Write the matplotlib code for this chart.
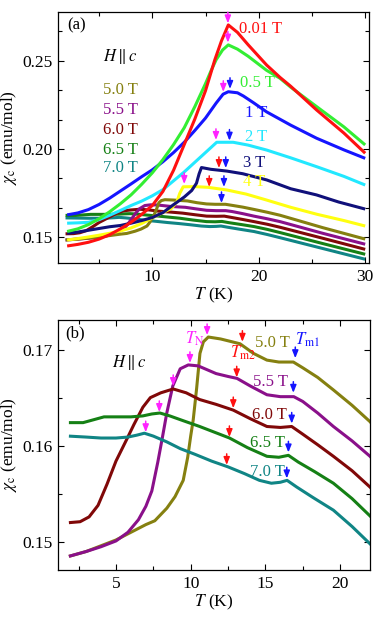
import numpy as np
import matplotlib
matplotlib.use('Agg')
import matplotlib.pyplot as plt
from matplotlib.ticker import MultipleLocator, AutoMinorLocator, FormatStrFormatter

plt.rcParams['font.family'] = ['Liberation Serif', 'DejaVu Serif']
plt.rcParams['mathtext.fontset'] = 'stix'

# ---- data ----
# panel (a), low fields
T_001 = [2, 3, 4, 5, 6, 7, 8, 9, 10, 11, 12, 13, 14, 15, 15.87, 16.5, 17.14, 18, 19, 20.74, 22, 23,
         25.43, 28, 30]
chi_001 = [0.1451, 0.1460, 0.1472, 0.1490, 0.1515, 0.1548, 0.1585, 0.1630, 0.1680, 0.1760, 0.1880, 0.2025,
           0.2170, 0.2330, 0.2504, 0.2612, 0.2702, 0.2660, 0.2590, 0.2475, 0.2405, 0.2355, 0.2221, 0.2090,
           0.1976]

T_05 = [2, 3, 4, 5, 6, 7, 8, 9, 10, 11, 12, 13, 14, 15, 15.55, 16, 16.6, 17.14, 18, 19, 20.74, 22, 23,
        25.43, 28, 30]
chi_05 = [0.1533, 0.1548, 0.1572, 0.1605, 0.1645, 0.1690, 0.1740, 0.1800, 0.1865, 0.1940, 0.2025, 0.2120,
          0.2240, 0.2370, 0.2447, 0.2505, 0.2560, 0.2589, 0.2565, 0.2525, 0.2445, 0.2400, 0.2350, 0.2240,
          0.2125, 0.2023]

T_1 = [2, 3, 4, 5, 6, 7, 8, 9, 10, 11, 12, 13, 14, 15, 16, 16.65, 17.14, 18, 18.55, 19.5, 20.74, 23,
       25.43, 28, 30]
chi_1 = [0.1627, 0.1638, 0.1657, 0.1686, 0.1722, 0.1762, 0.1802, 0.1843, 0.1882, 0.1928, 0.1980, 0.2038,
         0.2105, 0.2175, 0.2260, 0.2310, 0.2324, 0.2318, 0.2300, 0.2262, 0.2210, 0.2135, 0.2061, 0.1995,
         0.1947]

T_2 = [2, 3, 4, 5, 6, 7, 8, 9, 10, 11, 12, 13, 14, 15, 16.05, 17.6, 19, 20.74, 23, 25.43, 28, 30]
chi_2 = [0.1580, 0.1582, 0.1585, 0.1600, 0.1625, 0.1652, 0.1680, 0.1705, 0.1735, 0.1770, 0.1820, 0.1870,
         0.1925, 0.1980, 0.2038, 0.2038, 0.2022, 0.1994, 0.1950, 0.1900, 0.1845, 0.1796]

T_3 = [2, 3, 4, 5, 6, 7, 8, 9, 10, 11, 12, 13, 13.7, 14.15, 14.4, 14.62, 15.5, 17, 18.5, 20.74, 23, 25.43,
       27.5, 30]
chi_3 = [0.1523, 0.1530, 0.1540, 0.1550, 0.1560, 0.1567, 0.1580, 0.1595, 0.1612, 0.1640, 0.1685, 0.1728,
         0.1765, 0.1806, 0.1860, 0.1895, 0.1885, 0.1875, 0.1860, 0.1825, 0.1775, 0.1740, 0.1700, 0.1660]

T_4 = [2, 3, 4, 5, 6, 7, 8, 9, 10, 11, 11.8, 12.3, 12.58, 12.9, 14, 15.24, 17, 18.8, 20.74, 23, 25.5, 28, 30]
chi_4 = [0.1485, 0.1493, 0.1502, 0.1512, 0.1523, 0.1536, 0.1553, 0.1578, 0.1610, 0.1640, 0.1664, 0.1700,
         0.1749, 0.1786, 0.1787, 0.1783, 0.1768, 0.1745, 0.1711, 0.1670, 0.1630, 0.1595, 0.1564]

# high fields (both panels)
T_50 = [1.85, 3, 4, 5, 6, 7, 7.6, 8.4, 8.95, 9.5, 9.8, 10.0, 10.17, 10.4, 10.62, 10.85, 11.18, 12, 13.3,
        14.2, 15.1, 15.9, 16.87, 17.5, 18.5, 19.55, 20.8, 22, 26, 30]
chi_50 = [0.1485, 0.1490, 0.1496, 0.1502, 0.1510, 0.1518, 0.1522, 0.1535, 0.1547, 0.1564, 0.1588, 0.1610,
          0.1627, 0.1660, 0.1696, 0.1708, 0.1713, 0.1711, 0.1706, 0.1696, 0.1689, 0.1687, 0.1687, 0.1681,
          0.1671, 0.1658, 0.1642, 0.1625, 0.1555, 0.1490]

T_55 = [1.85, 3, 4, 5, 5.8, 6.5, 7.0, 7.4, 7.8, 8.1, 8.4, 8.8, 9.3, 9.84, 10.5, 11.7, 12.5, 13.1, 14,
        15.1, 16, 16.9, 17.5, 18.5, 19.55, 20.8, 22, 26, 30]
chi_55 = [0.1485, 0.1490, 0.1495, 0.1501, 0.1510, 0.1523, 0.1537, 0.1553, 0.1583, 0.1608, 0.1634, 0.1662,
          0.1680, 0.1684, 0.1683, 0.1675, 0.1672, 0.1670, 0.1662, 0.1653, 0.1651, 0.1651, 0.1646, 0.1634,
          0.1620, 0.1605, 0.1589, 0.1523, 0.1461]

T_60 = [1.85, 2.6, 3.2, 3.8, 4.4, 5.0, 5.7, 6.2, 6.8, 7.3, 8.0, 8.83, 9.7, 10.6, 11.7, 12.85, 14, 15.1,
        16, 16.76, 17.5, 18.5, 19.55, 20.8, 22, 26, 30]
chi_60 = [0.1520, 0.1521, 0.1526, 0.1538, 0.1560, 0.1584, 0.1606, 0.1622, 0.1640, 0.1650, 0.1655, 0.1659,
          0.1655, 0.1648, 0.1643, 0.1637, 0.1628, 0.1620, 0.1619, 0.1620, 0.1612, 0.1601, 0.1589, 0.1574,
          0.1557, 0.1495, 0.1432]

T_65 = [1.85, 2.8, 3.5, 4.2, 5, 6, 6.8, 7.4, 7.94, 8.6, 9.5, 10.6, 11.6, 12.6, 13.8, 15.1, 15.9, 16.54,
        17.2, 18.3, 19.55, 20.8, 22, 26, 30]
chi_65 = [0.1624, 0.1624, 0.1627, 0.1630, 0.1630, 0.1630, 0.1631, 0.1633, 0.1634, 0.1631, 0.1626, 0.1620,
          0.1614, 0.1608, 0.1598, 0.1589, 0.1588, 0.1590, 0.1583, 0.1573, 0.1561, 0.1545, 0.1527, 0.1465,
          0.1404]

T_70 = [1.85, 3, 4, 5, 5.8, 6.4, 6.9, 7.5, 8.4, 9.3, 10.3, 11.4, 12.5, 13.6, 14.6, 15.4, 16.0, 16.45,
        17.1, 18.2, 19.55, 20.8, 22, 26, 30]
chi_70 = [0.1610, 0.1609, 0.1608, 0.1608, 0.1609, 0.1611, 0.1613, 0.1610, 0.1604, 0.1597, 0.1591, 0.1584,
          0.1578, 0.1571, 0.1564, 0.1561, 0.1562, 0.1564, 0.1557, 0.1546, 0.1533, 0.1516, 0.1498, 0.1437,
          0.1376]

# transition arrows: temperature, chi at arrow tip, kind (N / m2 / m1)
arr_a_T = [17.1, 17.1, 16.67, 17.3, 15.98, 17.25, 16.26, 16.9, 13.0, 15.35, 16.73, 16.5]
arr_a_chi = [0.2711, 0.2602, 0.2323, 0.2340, 0.2051, 0.2047, 0.1892, 0.1892, 0.1802, 0.1785, 0.1785, 0.1694]
arr_a_kind = ['N', 'N', 'N', 'm1', 'N', 'm1', 'm2', 'm1', 'N', 'm2', 'm1', 'm1']

arr_b_T = [11.1, 13.46, 17.0, 9.95, 13.08, 16.87, 8.83, 12.85, 16.76, 7.9, 12.59, 16.54, 6.99, 12.41, 16.43]
arr_b_chi = [0.1715, 0.1708, 0.1691, 0.1686, 0.1671, 0.1655, 0.1662, 0.1639, 0.1623,
             0.1635, 0.1609, 0.1593, 0.1614, 0.1580, 0.1566]
arr_b_kind = ['N', 'm2', 'm1'] * 5

col = {'0.01': '#ff1010', '0.5': '#33ee33', '1': '#1515ff', '2': '#22e8ff', '3': '#10107a',
       '4': '#ffff10', '5.0': '#858010', '5.5': '#8a108a', '6.0': '#800808', '6.5': '#158015',
       '7.0': '#108585'}
arrow_col = {'N': '#ff22ff', 'm2': '#ff1010', 'm1': '#1515ff'}

low = [('0.01', T_001, chi_001), ('0.5', T_05, chi_05), ('1', T_1, chi_1),
       ('2', T_2, chi_2), ('3', T_3, chi_3), ('4', T_4, chi_4)]
high = [('5.0', T_50, chi_50), ('5.5', T_55, chi_55), ('6.0', T_60, chi_60),
        ('6.5', T_65, chi_65), ('7.0', T_70, chi_70)]


def style_axes(ax, xmaj, xmin, ymaj, yminor_n):
    ax.xaxis.set_major_locator(MultipleLocator(xmaj))
    ax.xaxis.set_minor_locator(MultipleLocator(xmin))
    ax.yaxis.set_major_locator(MultipleLocator(ymaj))
    ax.yaxis.set_minor_locator(AutoMinorLocator(yminor_n))
    ax.yaxis.set_major_formatter(FormatStrFormatter('%.2f'))
    ax.tick_params(which='both', direction='in', top=True, right=True, labelsize=12.5, pad=4)
    ax.tick_params(which='major', length=4.5, width=0.8)
    ax.tick_params(which='minor', length=3, width=0.8)
    for s in ax.spines.values():
        s.set_linewidth(0.9)
    ax.set_xlabel(r'$T$ (K)', fontsize=12.5, labelpad=1)
    ax.set_ylabel(r'$\chi_{\rm c}$ (emu/mol)', fontsize=12.5)
    ax.yaxis.set_label_coords(-0.125, 0.5)


def draw_arrows(ax, Ts, chis, kinds):
    for t, c, k in zip(Ts, chis, kinds):
        ax.annotate('', xy=(t, c), xytext=(0, 8), textcoords='offset points',
                    arrowprops=dict(arrowstyle='-|>,head_length=0.45,head_width=0.18',
                                    color=arrow_col[k], lw=1.1, shrinkA=0, shrinkB=0))


fig = plt.figure(figsize=(3.82, 6.25), dpi=100)
ax1 = fig.add_axes([0.1526, 0.5787, 0.814, 0.4026])
ax2 = fig.add_axes([0.1526, 0.088, 0.816, 0.400])

# ---- panel (a) ----
for key, T, chi in high[::-1]:
    ax1.plot(T, chi, color=col[key], lw=2.2, solid_capstyle='butt')
for key, T, chi in low[::-1]:
    ax1.plot(T, chi, color=col[key], lw=2.2, solid_capstyle='butt')
ax1.set_xlim(1.17, 30.38)
ax1.set_ylim(0.1353, 0.2777)
style_axes(ax1, 10, 5, 0.05, 3)
draw_arrows(ax1, arr_a_T, arr_a_chi, arr_a_kind)

fs = 12
ax1.text(2.0, 0.2702, '(a)', fontsize=fs, va='center')
ax1.text(5.35, 0.2521, r'$H\parallel c$', fontsize=fs, va='center')
for (key, _, _), yy in zip(high, [0.2334, 0.2221, 0.2108, 0.1994, 0.1892]):
    ax1.text(5.35, yy, key + ' T', color=col[key], fontsize=fs, va='center')
for (key, _, _), xx, yy in zip(low, [18.14, 18.23, 18.7, 18.7, 18.5, 18.5],
                               [0.2679, 0.2374, 0.2204, 0.2068, 0.1921, 0.1813]):
    ax1.text(xx, yy, key + ' T', color=col[key], fontsize=fs, va='center')

# ---- panel (b) ----
for key, T, chi in high:
    ax2.plot(T, chi, color=col[key], lw=2.2, solid_capstyle='butt')
ax2.set_xlim(1.14, 22.0)
ax2.set_ylim(0.14708, 0.17307)
style_axes(ax2, 5, 2.5, 0.01, 2)
draw_arrows(ax2, arr_b_T, arr_b_chi, arr_b_kind)

ax2.text(1.6, 0.1717, '(b)', fontsize=fs, va='center')
ax2.text(4.75, 0.1687, r'$H\parallel c$', fontsize=fs, va='center')
ax2.text(9.6, 0.1711, r'$T_{\rm N}$', color=arrow_col['N'], fontsize=fs, va='center')
ax2.text(12.6, 0.1697, r'$T_{\rm m2}$', color=arrow_col['m2'], fontsize=fs, va='center')
ax2.text(16.95, 0.1710, r'$T_{\rm m1}$', color=arrow_col['m1'], fontsize=fs, va='center')
for (key, _, _), xx, yy in zip(high, [14.3, 14.17, 14.1, 13.97, 13.97],
                               [0.1707, 0.1666, 0.1632, 0.1603, 0.1573]):
    ax2.text(xx, yy, key + ' T', color=col[key], fontsize=fs, va='center')

plt.savefig('out.png', dpi=100)
